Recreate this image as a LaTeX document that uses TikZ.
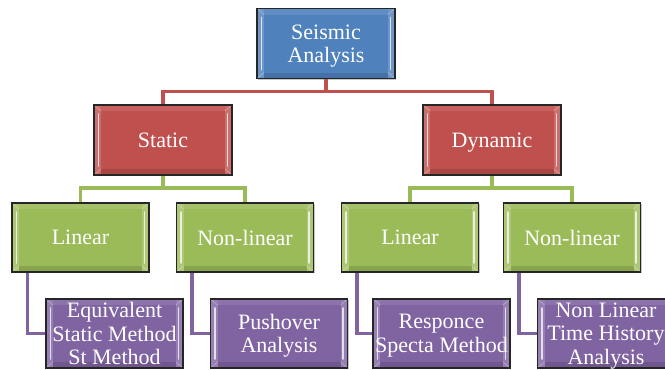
\documentclass[tikz,border=0pt]{standalone}
\usepackage{fontspec}
\setmainfont{Liberation Serif}
\newfontfamily\boxfont{Liberation Serif}
\usetikzlibrary{backgrounds,shadows}
\definecolor{cblue}{HTML}{4F81BD}
\definecolor{cred}{HTML}{C0504D}
\definecolor{cgreen}{HTML}{9BBB59}
\definecolor{cpurple}{HTML}{8064A2}
\tikzset{
  bevel/.style={
    path picture={
      \coordinate (bl) at (path picture bounding box.south west);
      \coordinate (tr) at (path picture bounding box.north east);
      \fill[white,opacity=0.18] (bl) rectangle ([xshift=7pt]bl|-tr);
      \fill[white,opacity=0.18] ([xshift=-7pt]tr|-bl) rectangle (tr);
      \fill[white,opacity=0.10] ([xshift=7pt,yshift=-6pt]bl|-tr) rectangle ([xshift=-7pt]tr);
      \fill[black,opacity=0.12] ([xshift=7pt]bl) rectangle ([xshift=-7pt,yshift=6pt]tr|-bl);
      \draw[white,opacity=0.75,line width=1.6pt,line cap=round]
        ([xshift=4.5pt,yshift=9pt]bl) -- ([xshift=4.5pt,yshift=-9pt]bl|-tr);
      \draw[white,opacity=0.75,line width=1.6pt,line cap=round]
        ([xshift=-4.5pt,yshift=9pt]tr|-bl) -- ([xshift=-4.5pt,yshift=-9pt]tr);
      \draw[white,opacity=0.35,line width=0.6pt]
        (bl|-tr) -- ([xshift=7pt,yshift=-6pt]bl|-tr)
        (tr) -- ([xshift=-7pt,yshift=-6pt]tr)
        (bl) -- ([xshift=7pt,yshift=6pt]bl)
        (tr|-bl) -- ([xshift=-7pt,yshift=6pt]tr|-bl);
    }},
  box/.style={bevel, draw=black!85, line width=1.2pt, minimum width=138pt,
    minimum height=70pt, inner sep=0pt, text=white, align=center,
    text depth=0pt,
    font=\boxfont\fontsize{22}{23.5}\selectfont,
    drop shadow={shadow xshift=1pt, shadow yshift=-1.2pt, opacity=0.45}},
  bluebox/.style={box, fill=cblue},
  redbox/.style={box, fill=cred},
  greenbox/.style={box, fill=cgreen, minimum width=137pt, minimum height=69pt},
  purplebox/.style={box, fill=cpurple, minimum width=137pt, minimum height=69pt},
  conn/.style={line width=3.3pt},
}
\begin{document}
\begin{tikzpicture}[x=1pt,y=-1pt]
\useasboundingbox (0,0) rectangle (665,370);
\node[bluebox] (top) at (326,43.5) {Seismic\\Analysis};
\node[redbox] (stat) at (163,140) {Static};
\node[redbox] (dyn) at (492,140) {Dynamic};
\node[greenbox] (l1) at (80.5,237.5) {Linear};
\node[greenbox] (l2) at (245,237.5) {Non-linear};
\node[greenbox] (l3) at (410,237.5) {Linear};
\node[greenbox] (l4) at (572,237.5) {Non-linear};
\node[purplebox] (p1) at (114.5,333.5) {Equivalent\\Static Method\\St Method};
\node[purplebox] (p2) at (279,333.5) {Pushover\\Analysis};
\node[purplebox] (p3) at (441.5,333.5) {Responce\\Specta Method};
\node[purplebox] (p4) at (606,333.5) {Non Linear\\Time History\\Analysis};
\begin{scope}[on background layer]
\draw[conn,cred] (top.south) -- ++(0,12.5) -| (stat.north);
\draw[conn,cred] (top.south) -- ++(0,12.5) -| (dyn.north);
\draw[conn,cgreen] (stat.south) -- ++(0,12.5) -| (l1.north);
\draw[conn,cgreen] (stat.south) -- ++(0,12.5) -| (l2.north);
\draw[conn,cgreen] (dyn.south) -- ++(0,12.5) -| (l3.north);
\draw[conn,cgreen] (dyn.south) -- ++(0,12.5) -| (l4.north);
\draw[conn,cpurple] ([xshift=16pt]l1.south west) |- (p1.west);
\draw[conn,cpurple] ([xshift=16pt]l2.south west) |- (p2.west);
\draw[conn,cpurple] ([xshift=16pt]l3.south west) |- (p3.west);
\draw[conn,cpurple] ([xshift=16pt]l4.south west) |- (p4.west);
\end{scope}
\end{tikzpicture}
\end{document}
